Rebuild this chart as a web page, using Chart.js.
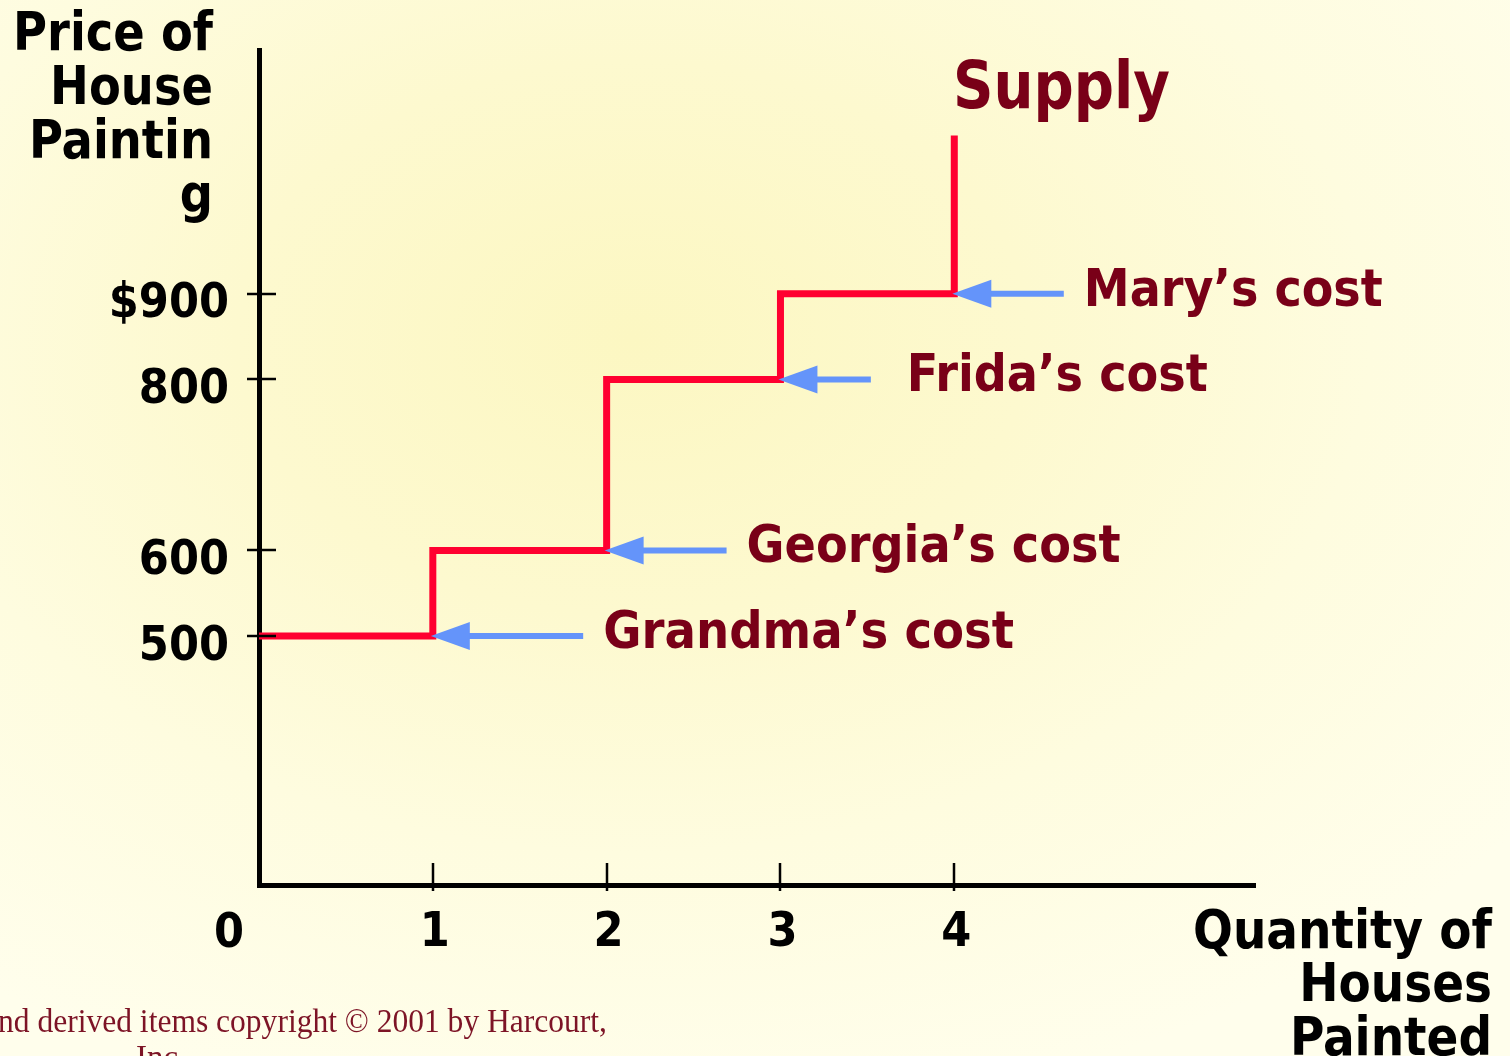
<!DOCTYPE html>
<html><head><meta charset="utf-8">
<script src="https://cdn.jsdelivr.net/npm/chart.js@4.4.0/dist/chart.umd.min.js"></script>
<style>
html,body{margin:0;padding:0;width:1510px;height:1056px;overflow:hidden;}
body{background: radial-gradient(ellipse 75% 75% at 42% 32%, #fcf7c2 0%, #fdf9cf 35%, #fefcdf 65%, #fffeec 100%);}
#wrap{position:absolute;left:0;top:0;width:1510px;height:1056px;}
</style></head><body>
<div id="wrap"><canvas id="c" width="1510" height="1056"></canvas></div>
<script>
// ---- data ----
const sellers = ['Grandma', 'Georgia', 'Frida', 'Mary'];
const costs = [500, 600, 800, 900];
const quantities = [0, 1, 2, 3, 4];
const supplyTop = 1085;
const xTickValues = [0, 1, 2, 3, 4];
const xTickLabels = ['0', '1', '2', '3', '4'];
const yTickValues = [500, 600, 800, 900];
const yTickLabels = ['500', '600', '800', '$900'];
const costLabels = sellers.map(s => s + '\u2019s cost');

// ---- styles / layout ----
const FONT = '"DejaVu Sans Condensed", "DejaVu Sans", Verdana, sans-serif';
const RED = '#ff0030';
const BLUE = '#6494fa';
const MAROON = '#790018';
const arrowLayout = { tail: [1.865, 2.69, 3.52, 4.63], gap: [20, 20, 36, 20], width: [411, 374, 301, 299] };

const supplyPrices = costs.concat([supplyTop]);
const supplyPoints = quantities.map((q, i) => ({ x: q, y: supplyPrices[i] }));

function fitText(ctx, text, x, y, width, align) {
  const w = ctx.measureText(text).width;
  const sx = width / w;
  ctx.save();
  ctx.translate(x, y);
  ctx.scale(sx, 1);
  ctx.textAlign = align || 'left';
  ctx.fillText(text, 0, 0);
  ctx.restore();
}
function noPad(s) { s.paddingTop = 0; s.paddingBottom = 0; s.paddingLeft = 0; s.paddingRight = 0; }

const annot = {
  id: 'annot',
  afterDatasetsDraw(chart) {
    const ctx = chart.ctx, xs = chart.scales.x, ys = chart.scales.y;
    ctx.save();
    costs.forEach((c, i) => {
      const tip = xs.getPixelForValue(quantities[i + 1]);
      const y = ys.getPixelForValue(c);
      const tail = xs.getPixelForValue(arrowLayout.tail[i]);
      ctx.strokeStyle = BLUE; ctx.lineWidth = 6; ctx.lineCap = 'butt';
      ctx.beginPath(); ctx.moveTo(tip + 30, y); ctx.lineTo(tail, y); ctx.stroke();
      ctx.fillStyle = BLUE;
      ctx.beginPath(); ctx.moveTo(tip - 2, y); ctx.lineTo(tip + 37, y - 14); ctx.lineTo(tip + 37, y + 14); ctx.closePath(); ctx.fill();
      ctx.fillStyle = MAROON;
      ctx.font = 'bold 52px ' + FONT;
      ctx.textBaseline = 'alphabetic';
      fitText(ctx, costLabels[i], tail + arrowLayout.gap[i], y + 12, arrowLayout.width[i], 'left');
    });
    ctx.restore();
  },
  afterDraw(chart) {
    const ctx = chart.ctx, xs = chart.scales.x, ys = chart.scales.y;
    const a = chart.chartArea;
    ctx.save();
    // tick marks crossing axes
    ctx.strokeStyle = '#000'; ctx.lineWidth = 2.5;
    xs.ticks.forEach(t => {
      if (t.value === 0) return;
      const px = Math.round(xs.getPixelForValue(t.value));
      ctx.beginPath(); ctx.moveTo(px, a.bottom - 22); ctx.lineTo(px, a.bottom + 6); ctx.stroke();
    });
    ys.ticks.forEach(t => {
      const py = Math.round(ys.getPixelForValue(t.value));
      ctx.beginPath(); ctx.moveTo(a.left - 12, py); ctx.lineTo(a.left + 17, py); ctx.stroke();
    });
    // origin label
    ctx.fillStyle = '#000';
    ctx.font = 'bold 48px ' + FONT;
    ctx.textAlign = 'center'; ctx.textBaseline = 'alphabetic';
    ctx.fillText(xTickLabels[0], xs.getPixelForValue(0) - 30, 947);
    // axis titles
    ctx.font = 'bold 54px ' + FONT;
    const sy = 200 / ctx.measureText('Price of').width;
    [['Price of', 50], ['House', 104], ['Paintin', 158], ['g', 212]].forEach(([t, y]) => {
      ctx.save(); ctx.translate(213, y); ctx.scale(sy, 1); ctx.textAlign = 'right'; ctx.fillText(t, 0, 0); ctx.restore();
    });
    const sq = 299 / ctx.measureText('Quantity of').width;
    [['Quantity of', 948], ['Houses', 1001], ['Painted', 1055]].forEach(([t, y]) => {
      ctx.save(); ctx.translate(1492, y); ctx.scale(sq, 1); ctx.textAlign = 'right'; ctx.fillText(t, 0, 0); ctx.restore();
    });
    // Supply label
    ctx.fillStyle = MAROON;
    ctx.font = 'bold 66px ' + FONT;
    fitText(ctx, 'Supply', 953, 108, 217, 'left');
    // copyright
    ctx.fillStyle = '#7d1426';
    ctx.font = '33px "Liberation Serif", "Times New Roman", serif';
    fitText(ctx, 'nd derived items copyright \u00a9 2001 by Harcourt,', 607, 1032, 609, 'right');
    ctx.textAlign = 'left';
    ctx.fillText('Inc.', 136, 1068);
    ctx.restore();
  }
};

new Chart(document.getElementById('c'), {
  type: 'line',
  data: {
    datasets: [{
      label: 'Supply',
      data: supplyPoints,
      stepped: 'before',
      borderColor: RED,
      borderWidth: 7,
      pointRadius: 0,
      fill: false,
      borderCapStyle: 'butt',
      borderJoinStyle: 'miter'
    }]
  },
  options: {
    responsive: false,
    animation: false,
    devicePixelRatio: 1,
    layout: { padding: { left: 109, right: 255, top: 50, bottom: 71 } },
    plugins: { legend: { display: false }, tooltip: { enabled: false } },
    scales: {
      x: {
        type: 'linear', min: 0, max: 5.73,
        afterBuildTicks: s => { s.ticks = xTickValues.map(v => ({ value: v })); },
        afterFit: s => { s.height = 100; noPad(s); },
        grid: { display: false, drawTicks: false },
        border: { display: true, color: '#000', width: 5 },
        ticks: {
          color: '#000', font: { family: FONT, size: 48, weight: 'bold' },
          padding: 20, maxRotation: 0, autoSkip: false, labelOffset: 2,
          callback: v => (v === 0 ? '' : xTickLabels[xTickValues.indexOf(v)])
        }
      },
      y: {
        type: 'linear', min: 209, max: 1185,
        afterBuildTicks: s => { s.ticks = yTickValues.map(v => ({ value: v })); },
        afterFit: s => { s.width = 150; noPad(s); },
        grid: { display: false, drawTicks: false },
        border: { display: true, color: '#000', width: 5 },
        ticks: {
          color: '#000', font: { family: FONT, size: 48, weight: 'bold' },
          padding: 30, autoSkip: false, labelOffset: 11,
          callback: v => yTickLabels[yTickValues.indexOf(v)]
        }
      }
    }
  },
  plugins: [annot]
});
</script>
</body></html>
